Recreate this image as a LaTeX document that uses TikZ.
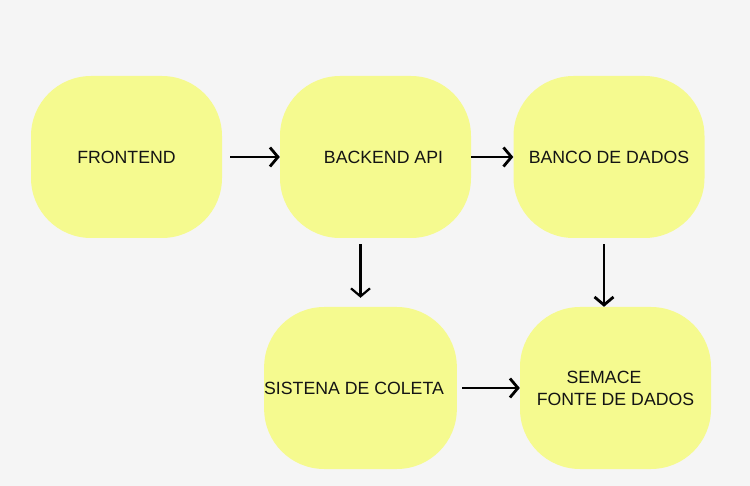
\documentclass[tikz,border=0pt]{standalone}
\usepackage{fontspec}
\setmainfont{Liberation Sans}
\usetikzlibrary{arrows.meta}

\definecolor{bgcol}{RGB}{245,245,245}
\definecolor{boxcol}{RGB}{245,250,143}
\definecolor{txtcol}{RGB}{20,20,20}

\tikzset{
	stepbox/.style={fill=boxcol, rounded corners=60pt, minimum width=191pt,
		minimum height=162pt, inner sep=0pt, text=txtcol,
		font=\fontsize{17.7}{22}\selectfont, align=center},
	flow/.style={-{Straight Barb[length=8pt, width=19pt]}, line width=2.8pt, black},
	thinflow/.style={-{Straight Barb[length=8pt, width=19pt]}, line width=2.2pt, black}
}

\begin{document}
\begin{tikzpicture}[x=1pt, y=-1pt]
			%background
			\fill[bgcol] (0, 0) rectangle (750, 486);
			\useasboundingbox (0, 0) rectangle (750, 486);

			% top row
			\node[stepbox] (front) at (126.5, 157)
				{FRONTEND};
			\node[stepbox] (back) at (375.5, 157)
				{\hspace*{16pt}BACKEND API};
			\node[stepbox] (banco) at (609, 157)
				{BANCO DE DADOS};

			% bottom row
			\node[stepbox] (coleta) at (360.5, 388)
				{SISTENA DE COLETA\hspace*{13pt}};
			\node[stepbox] (semace) at (615.5, 388)
				{SEMACE\hspace*{23pt}\\FONTE DE DADOS};

			% arrows
			\draw[flow, shorten <=8pt]
				(front) -- (back);
			\draw[flow]
				(back) -- (banco);
			\draw[thinflow, shorten <=6pt, shorten >=9pt]
				(back.south -| coleta) -- (coleta.north);
			\draw[flow, shorten <=6pt]
				([xshift=-5pt]banco.south) -- ([xshift=-5pt]banco.south |- semace.north);
			\draw[flow, shorten <=5pt]
				(coleta) -- (semace);

		\end{tikzpicture}
\end{document}
